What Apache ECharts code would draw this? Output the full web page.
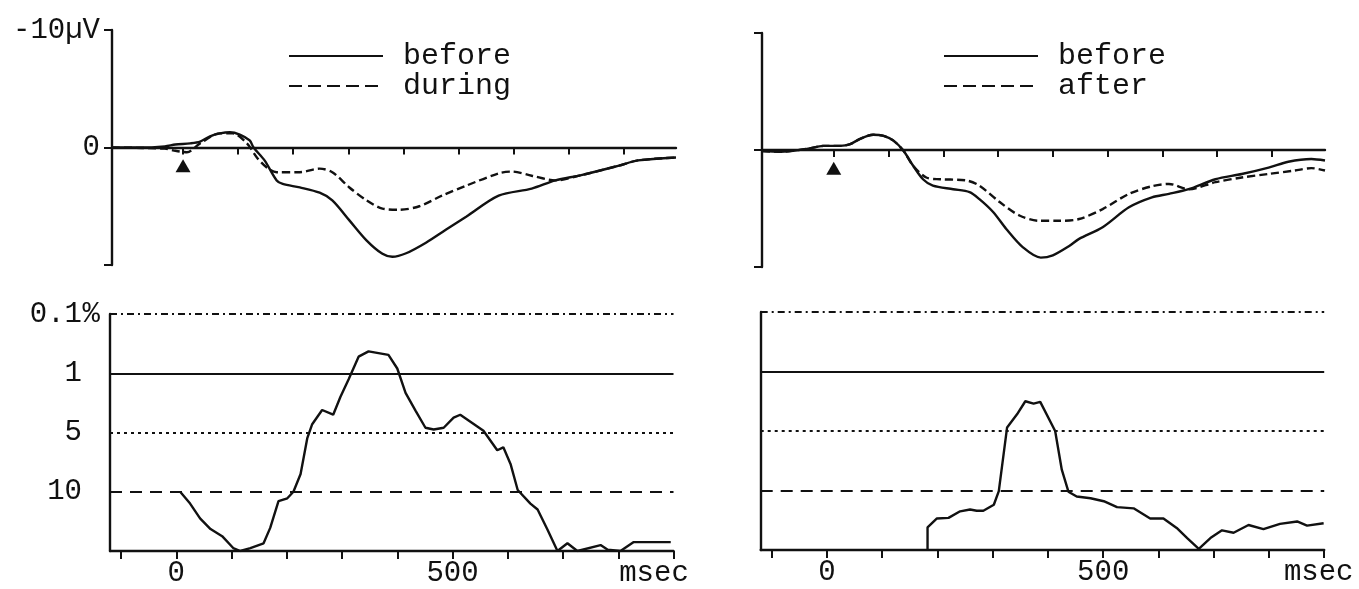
<!DOCTYPE html>
<html>
<head>
<meta charset="utf-8">
<script src="https://cdn.jsdelivr.net/npm/echarts@6/dist/echarts.min.js"></script>
<style>
html, body { margin: 0; padding: 0; background: #fff; }
#main { width: 1359px; height: 589px; }
</style>
</head>
<body>
<div id="main"></div>
<script>
// ERP curves, [msec, µV] (negative is up)
var beforeL = [[-129,0],[-78,0],[-33,-0.1],[-14,-0.25],[13,-0.35],[31,-0.5],[49,-0.95],[67,-1.2],[85,-1.3],[103,-1.1],[121,-0.6],[128,0],[148,1.1],[170,2.8],[181,3.1],[212,3.4],[248,3.85],[271,4.5],[302,6.2],[333,7.9],[362,9.05],[380,9.3],[405,9.0],[441,8.1],[477,7.0],[514,5.9],[573,4.1],[633,3.5],[676,2.8],[723,2.35],[790,1.56],[826,1.1],[895,0.85]];
var duringL = [[-129,0],[-33,0.1],[-18,0.25],[7,0.4],[31,-0.35],[67,-1.2],[90,-1.2],[116,-0.35],[134,0.85],[152,1.7],[170,2.1],[212,2.1],[248,1.8],[271,2.1],[302,3.4],[333,4.5],[362,5.2],[392,5.3],[429,5.0],[470,4.1],[514,3.25],[573,2.2],[597,2.05],[633,2.4],[676,2.8],[723,2.35],[790,1.56],[826,1.1],[895,0.85]];
var beforeR = [[-131,0.1],[-97,0.15],[-49,-0.1],[-19,-0.35],[12,-0.35],[30,-0.5],[48,-0.95],[72,-1.3],[91,-1.2],[109,-0.8],[127,0.05],[145,1.35],[163,2.5],[181,3.05],[218,3.35],[248,3.6],[266,4.2],[291,5.3],[315,6.75],[345,8.3],[378,9.2],[400,9.0],[430,8.2],[448,7.6],[491,6.6],[539,4.9],[581,4.05],[612,3.75],[648,3.35],[697,2.5],[745,2.05],[794,1.5],[830,1.0],[872,0.77],[897,0.9]];
var afterR = [[-131,0.1],[-97,0.15],[-49,-0.1],[-19,-0.35],[12,-0.35],[30,-0.5],[48,-0.95],[72,-1.3],[91,-1.2],[109,-0.8],[127,0.05],[145,1.35],[169,2.35],[194,2.5],[242,2.6],[266,3.05],[303,4.45],[339,5.6],[375,6.05],[412,6.05],[448,5.9],[491,5.05],[539,3.75],[581,3.1],[612,2.9],[648,3.35],[697,2.75],[745,2.35],[794,2.05],[842,1.75],[872,1.55],[897,1.75]];

// significance curves, [msec, level] (level 1 = 10%, 2 = 5%, 3 = 1%, 4 = 0.1%)
var sigL = [[7,1.0],[25,0.8],[43,0.55],[62,0.37],[83,0.25],[103,0.05],[116,0],[134,0.05],[158,0.13],[170,0.39],[185,0.84],[201,0.89],[212,1.0],[225,1.3],[237,1.9],[246,2.14],[264,2.38],[284,2.3],[297,2.6],[312,2.9],[330,3.28],[348,3.37],[384,3.31],[400,3.08],[415,2.67],[433,2.37],[451,2.08],[466,2.05],[484,2.08],[502,2.25],[514,2.3],[556,2.03],[581,1.7],[592,1.75],[605,1.47],[618,1.03],[641,0.8],[654,0.7],[672,0.36],[690,0],[708,0.13],[726,0],[768,0.1],[781,0.02],[804,0],[828,0.15],[864,0.15],[895,0.15]];
var sigR = [[182,0],[182,0.38],[199,0.53],[220,0.54],[241,0.65],[259,0.68],[271,0.66],[283,0.66],[302,0.76],[311,0.99],[326,2.06],[344,2.28],[359,2.5],[374,2.46],[386,2.49],[413,2.0],[425,1.35],[437,0.98],[452,0.9],[477,0.87],[501,0.82],[525,0.72],[555,0.7],[585,0.53],[609,0.53],[633,0.37],[652,0.2],[673,0.02],[694,0.2],[715,0.33],[736,0.29],[763,0.42],[790,0.35],[820,0.44],[851,0.48],[869,0.41],[899,0.45]];

// stimulus marker (triangle under the baseline)
var stim = [[0, 1.55]];

// ticks / labels
var topTicks = [0, 100, 200, 300, 400, 500, 600, 700, 800];
var bottomTicks = [-100, 0, 100, 200, 300, 400, 500, 600, 700, 800, 900];
var bottomLabels = [0, 500];
var sigLevels = [1, 2, 3, 4];
var sigLabels = ['', '10', '5', '1', '0.1'];

var INK = '#111';
var FONT = "'Liberation Mono', 'DejaVu Sans Mono', monospace";
var LW = 2.4;
var dashes = [[12, 8], [3, 4], 'solid', [7, 4, 2, 4]];

var chart = echarts.init(document.getElementById('main'));

function topX(grid, min, max) {
    return {
        gridIndex: grid, type: 'value', min: min, max: max,
        axisLine: { onZero: true, lineStyle: { color: INK, width: LW } },
        axisTick: { show: true, customValues: topTicks, length: 7, lineStyle: { color: INK, width: 2 } },
        axisLabel: { show: false },
        splitLine: { show: false }
    };
}
function bottomX(grid, gap) {
    return {
        gridIndex: grid, type: 'value', min: -120, max: 900,
        name: 'msec', nameLocation: 'end', nameGap: gap, nameMoveOverlap: false,
        nameTextStyle: { fontFamily: FONT, fontSize: 29, color: INK, align: 'center', verticalAlign: 'top', padding: [8, 0, 0, 0] },
        axisLine: { onZero: false, lineStyle: { color: INK, width: LW } },
        axisTick: { show: true, customValues: bottomTicks, length: 8, lineStyle: { color: INK, width: 2 } },
        axisLabel: { customValues: bottomLabels, fontFamily: FONT, fontSize: 29, color: INK, margin: 8 },
        splitLine: { show: false }
    };
}
function topY(grid, withLabels) {
    return {
        gridIndex: grid, type: 'value', min: -10, max: 10, interval: 10, inverse: true,
        axisLine: { show: true, onZero: false, lineStyle: { color: INK, width: LW } },
        axisTick: { show: true, length: 8, lineStyle: { color: INK, width: 2 } },
        axisLabel: {
            show: withLabels, margin: 12, fontFamily: FONT, fontSize: 29, color: INK,
            formatter: function (v) { return v === -10 ? '-10µV' : (v === 0 ? '0' : ''); }
        },
        splitLine: { show: false }
    };
}
function bottomY(grid, withLabels) {
    return {
        gridIndex: grid, type: 'value', min: 0, max: 4, interval: 1,
        name: withLabels ? '%' : '', nameLocation: 'end', nameGap: 0, nameMoveOverlap: false,
        nameTextStyle: { fontFamily: FONT, fontSize: 29, color: INK, align: 'right', verticalAlign: 'middle', padding: [0, 10, 0, 0] },
        axisLine: { show: true, onZero: false, lineStyle: { color: INK, width: LW } },
        axisTick: { show: false },
        axisLabel: {
            show: withLabels, margin: 28, fontFamily: FONT, fontSize: 29, color: INK,
            formatter: function (v) { return sigLabels[v] || ''; }
        },
        splitLine: { show: false }
    };
}
function levelLines() {
    return {
        symbol: 'none', silent: true, label: { show: false }, animation: false,
        data: sigLevels.map(function (v, i) {
            return { yAxis: v, lineStyle: { color: INK, width: 2, type: dashes[i] } };
        })
    };
}
function erp(name, data, idx, dash) {
    return {
        name: name, type: 'line', xAxisIndex: idx, yAxisIndex: idx, data: data,
        showSymbol: false, symbol: 'none', smooth: 0.3,
        itemStyle: { color: INK },
        lineStyle: { color: INK, width: LW, type: dash || 'solid' }
    };
}
function stimMark(idx) {
    return {
        name: 'stim', type: 'scatter', xAxisIndex: idx, yAxisIndex: idx, data: stim,
        symbol: 'triangle', symbolSize: [15, 13], itemStyle: { color: INK, opacity: 1 }
    };
}
function legendAt(left, names) {
    return {
        left: left, top: 41, orient: 'vertical', padding: 0, itemGap: 0,
        itemWidth: 94, itemHeight: 14,
        itemStyle: { opacity: 0 },
        textStyle: { fontFamily: FONT, fontSize: 30, color: INK, lineHeight: 30, padding: [0, 0, 0, 15] },
        data: [
            { name: names[0] },
            { name: names[1], lineStyle: { type: [13, 6] } }
        ]
    };
}

var option = {
    backgroundColor: '#fff',
    animation: false,
    legend: [legendAt(288, ['before', 'during']), legendAt(943, ['before', 'after'])],
    grid: [
        { left: 112, top: 30, width: 564, height: 235 },
        { left: 762, top: 33, width: 563, height: 234 },
        { left: 110, top: 314, width: 563.5, height: 237 },
        { left: 760.7, top: 312, width: 563.5, height: 238 }
    ],
    xAxis: [topX(0, -129, 895), topX(1, -131, 897), bottomX(2, -19.5), bottomX(3, -5.5)],
    yAxis: [topY(0, true), topY(1, false), bottomY(2, true), bottomY(3, false)],
    series: [
        erp('before', beforeL, 0),
        erp('during', duringL, 0, [8, 4]),
        stimMark(0),
        erp('before', beforeR, 1),
        erp('after', afterR, 1, [8, 4]),
        stimMark(1),
        {
            name: 'sigL', type: 'line', xAxisIndex: 2, yAxisIndex: 2, data: sigL, showSymbol: false, symbol: 'none',
            lineStyle: { color: INK, width: LW }, markLine: levelLines()
        },
        {
            name: 'sigR', type: 'line', xAxisIndex: 3, yAxisIndex: 3, data: sigR, showSymbol: false, symbol: 'none',
            lineStyle: { color: INK, width: LW }, markLine: levelLines()
        }
    ]
};

chart.setOption(option);
</script>
</body>
</html>
